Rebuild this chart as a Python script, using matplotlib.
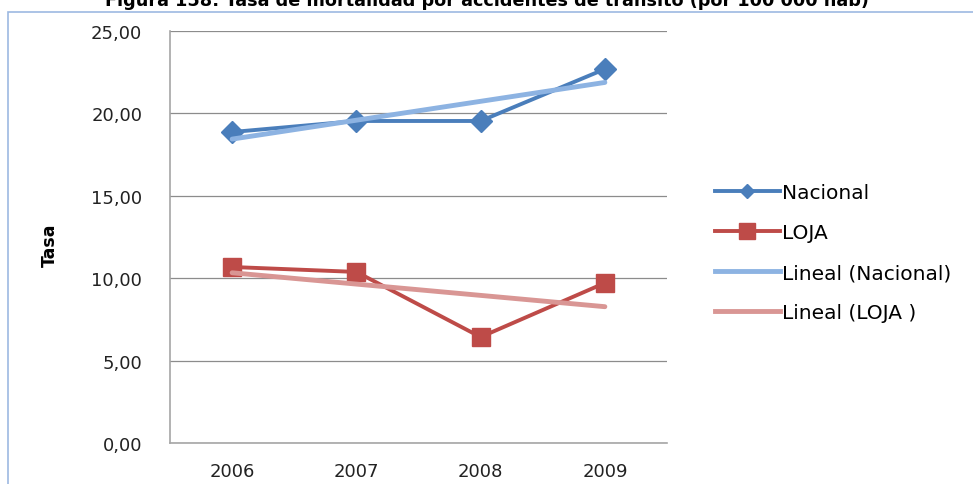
import numpy as np
import matplotlib
matplotlib.use("Agg")
import matplotlib.pyplot as plt
from matplotlib.lines import Line2D
from matplotlib.patches import Rectangle

years = ["2006", "2007", "2008", "2009"]
nacional = [18.87, 19.54, 19.54, 22.69]
loja = [10.68, 10.38, 6.43, 9.71]
yticks = [0, 5, 10, 15, 20, 25]
ytick_labels = ["0,00", "5,00", "10,00", "15,00", "20,00", "25,00"]
title = "Figura 158: Tasa de mortalidad por accidentes de tránsito (por 100 000 hab)"

plt.rcParams['font.family'] = ['DejaVu Sans']

W, H = 973, 485
fig = plt.figure(figsize=(W / 100, H / 100), dpi=100)

# outer frame
fig.patches.append(Rectangle((8 / W, -0.1), 1.2, 1 - 13 / H + 0.1, transform=fig.transFigure,
                             fill=False, edgecolor='#9DB9E1', linewidth=1.2))

ax = fig.add_axes([170 / W, (H - 444) / H, (667 - 170) / W, (444 - 32) / H])
x = np.arange(len(years))

ax.plot(x, nacional, color='#4A7EBB', lw=2.8, marker='D', ms=11, zorder=3)
ax.plot(x, loja, color='#BE4B48', lw=2.8, marker='s', ms=13, zorder=3)

pn = np.polyfit(x, nacional, 1)
pl = np.polyfit(x, loja, 1)
ax.plot(x, np.polyval(pn, x), color='#8DB3E2', lw=3.5, solid_capstyle='round', zorder=4)
ax.plot(x, np.polyval(pl, x), color='#D99694', lw=3.5, solid_capstyle='round', zorder=4)

ax.set_xlim(-0.5, 3.5)
ax.set_ylim(0, 25)
ax.set_yticks(yticks)
ax.set_yticklabels(ytick_labels)
ax.set_xticks(x)
ax.set_xticklabels(years)
ax.tick_params(axis='both', length=0, labelsize=13, colors='#222222')
ax.tick_params(axis='y', pad=20)
ax.tick_params(axis='x', pad=14)
ax.grid(axis='y', color='#8C8C8C', lw=0.9)
ax.set_axisbelow(True)
for s in ['top', 'right']:
    ax.spines[s].set_visible(False)
for s in ['left', 'bottom']:
    ax.spines[s].set_color('#A6A6A6')
    ax.spines[s].set_linewidth(1.2)

fig.text(50 / W, 1 - 245 / H, "Tasa", rotation=90, ha='center', va='center',
         fontsize=12.5, fontweight='bold')
fig.text(0.5, 1 - 6 / H, title, ha='center', va='baseline', fontsize=12.7, fontweight='bold')

handles = [
    Line2D([], [], color='#4A7EBB', lw=2.8, marker='D', ms=7),
    Line2D([], [], color='#BE4B48', lw=2.8, marker='s', ms=11),
    Line2D([], [], color='#8DB3E2', lw=3.5),
    Line2D([], [], color='#D99694', lw=3.5),
]
labels = ["Nacional", "LOJA", "Lineal (Nacional)", "Lineal (LOJA )"]
fig.legend(handles, labels, loc='upper left', bbox_to_anchor=(707 / W, 1 - 176 / H),
           frameon=False, fontsize=14.5, handlelength=3.2, handletextpad=0.1,
           labelspacing=1.05, borderaxespad=0)

fig.savefig("out.png", dpi=100)
